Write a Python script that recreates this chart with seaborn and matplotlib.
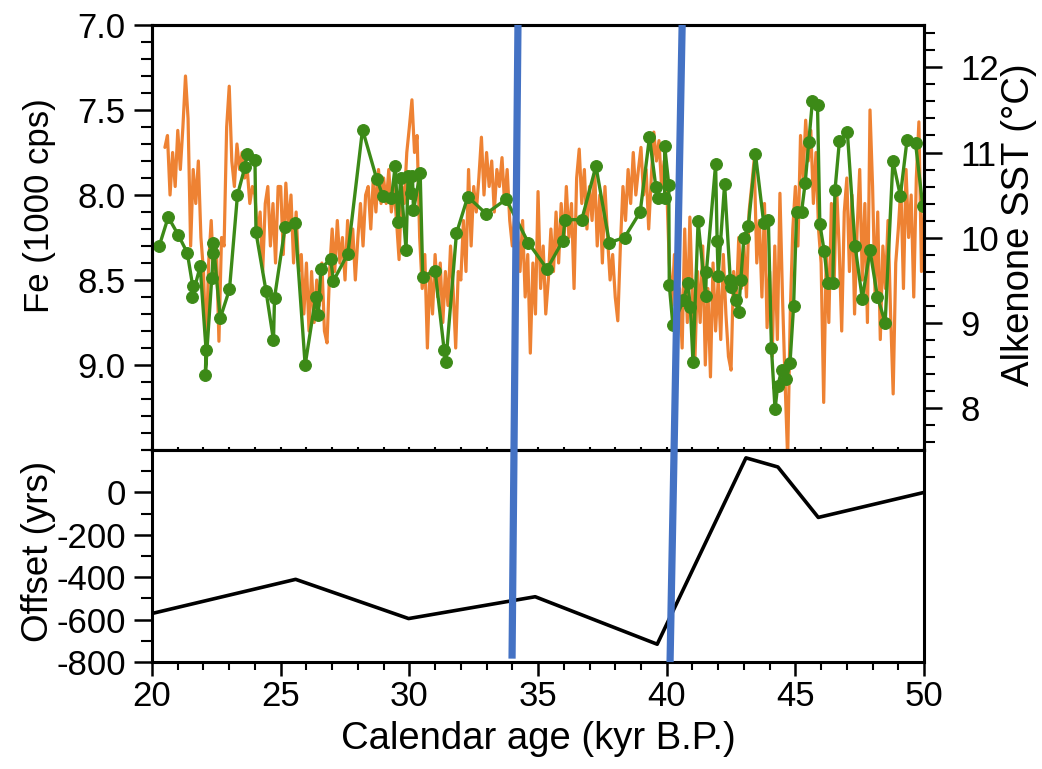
import matplotlib
matplotlib.use("Agg")
import matplotlib.pyplot as plt
import seaborn as sns
from matplotlib.patches import ConnectionPatch
from matplotlib.ticker import FixedLocator, MultipleLocator, FormatStrFormatter

# Fe (XRF core scanning), 1000 cps
fe_age = [
    20.5, 20.6, 20.7, 20.8, 20.9,
    21.0, 21.1, 21.2, 21.3, 21.4, 21.5, 21.6, 21.7, 21.8, 21.9,
    22.0, 22.1, 22.2, 22.3, 22.4, 22.5, 22.6, 22.7, 22.8, 22.9,
    23.0, 23.1, 23.2, 23.3, 23.4, 23.5, 23.6, 23.7, 23.8, 23.9,
    24.0, 24.1, 24.2, 24.3, 24.4, 24.5, 24.6, 24.7, 24.8, 24.9,
    25.0, 25.1, 25.2, 25.3, 25.4, 25.5, 25.6, 25.7, 25.8, 25.9,
    26.0, 26.1, 26.2, 26.3, 26.4, 26.5, 26.6, 26.7, 26.8, 26.9,
    27.0, 27.1, 27.2, 27.3, 27.4, 27.5, 27.6, 27.7, 27.8, 27.9,
    28.0, 28.1, 28.2, 28.3, 28.4, 28.5, 28.6, 28.7, 28.8, 28.9,
    29.0, 29.1, 29.2, 29.3, 29.4, 29.5, 29.6, 29.7, 29.8, 29.9,
    30.0, 30.1, 30.2, 30.3, 30.4, 30.5, 30.6, 30.7, 30.8, 30.9,
    31.0, 31.1, 31.2, 31.3, 31.4, 31.5, 31.6, 31.7, 31.8, 31.9,
    32.0, 32.1, 32.2, 32.3, 32.4, 32.5, 32.6, 32.7, 32.8, 32.9,
    33.0, 33.1, 33.2, 33.3, 33.4, 33.5, 33.6, 33.7, 33.8, 33.9,
    34.0, 34.1, 34.2, 34.3, 34.4, 34.5, 34.6, 34.7, 34.8, 34.9,
    35.0, 35.1, 35.2, 35.3, 35.4, 35.5, 35.6, 35.7, 35.8, 35.9,
    36.0, 36.1, 36.2, 36.3, 36.4, 36.5, 36.6, 36.7, 36.8, 36.9,
    37.0, 37.1, 37.2, 37.3, 37.4, 37.5, 37.6, 37.7, 37.8, 37.9,
    38.0, 38.1, 38.2, 38.3, 38.4, 38.5, 38.6, 38.7, 38.8, 38.9,
    39.0, 39.1, 39.2, 39.3, 39.4, 39.5, 39.6, 39.7, 39.8, 39.9,
    40.0, 40.1, 40.2, 40.3, 40.4, 40.5, 40.6, 40.7, 40.8, 40.9,
    41.0, 41.1, 41.2, 41.3, 41.4, 41.5, 41.6, 41.7, 41.8, 41.9,
    42.0, 42.1, 42.2, 42.3, 42.4, 42.5, 42.6, 42.7, 42.8, 42.9,
    43.0, 43.1, 43.2, 43.3, 43.4, 43.5, 43.6, 43.7, 43.8, 43.9,
    44.0, 44.1, 44.2, 44.3, 44.4, 44.5, 44.6, 44.7, 44.8, 44.9,
    45.0, 45.1, 45.2, 45.3, 45.4, 45.5, 45.6, 45.7, 45.8, 45.9,
    46.0, 46.1, 46.2, 46.3, 46.4, 46.5, 46.6, 46.7, 46.8, 46.9,
    47.0, 47.1, 47.2, 47.3, 47.4, 47.5, 47.6, 47.7, 47.8, 47.9,
    48.0, 48.1, 48.2, 48.3, 48.4, 48.5, 48.6, 48.7, 48.8, 48.9,
    49.0, 49.1, 49.2, 49.3, 49.4, 49.5, 49.6, 49.7, 49.8, 49.9,
    50.0,
]
fe_val = [
    7.72, 7.65, 8.00, 7.75, 7.95,
    7.62, 7.85, 7.60, 7.30, 7.55, 8.30, 7.85, 8.05, 7.80, 8.25,
    8.45, 8.92, 8.40, 8.15, 8.50, 8.30, 8.86, 8.25, 8.30, 7.60,
    7.36, 7.80, 7.95, 7.70, 7.85, 7.75, 7.90, 7.85, 8.05, 7.95,
    8.00, 8.25, 8.10, 8.45, 8.05, 7.95, 8.30, 8.05, 8.40, 7.95,
    7.95, 8.35, 7.93, 8.20, 8.00, 8.40, 8.10, 8.45, 8.35, 8.70,
    8.40, 8.80, 8.45, 8.75, 8.50, 8.65, 8.40, 8.80, 8.87, 8.45,
    8.20, 8.45, 8.15, 8.40, 8.25, 8.50, 8.15, 8.35, 8.20, 8.50,
    8.25, 8.05, 8.30, 8.00, 7.95, 8.20, 7.90, 8.10, 7.85, 8.05,
    7.90, 8.05, 7.85, 8.10, 7.95, 8.15, 8.38, 7.95, 8.05, 7.75,
    7.60, 7.44, 7.75, 7.65, 8.25, 8.55, 8.35, 8.90, 8.45, 8.70,
    8.35, 8.60, 8.40, 8.75, 8.45, 8.65, 8.30, 8.55, 8.90, 8.45,
    8.50, 8.15, 8.45, 7.85, 8.30, 7.95, 8.10, 7.90, 7.66, 8.00,
    7.75, 7.95, 7.80, 8.10, 7.85, 7.95, 7.78, 8.05, 7.85, 8.15,
    8.30, 8.10, 8.20, 8.45, 8.15, 8.60, 8.35, 8.93, 8.40, 8.70,
    7.98, 8.55, 8.30, 8.70, 8.50, 8.20, 8.45, 8.10, 8.40, 8.05,
    8.30, 7.95, 8.25, 8.05, 8.55, 7.90, 7.73, 8.05, 7.85, 8.20,
    7.95, 8.15, 7.85, 8.30, 8.00, 8.40, 7.95, 8.25, 8.50, 8.35,
    8.60, 8.74, 8.30, 7.95, 8.15, 7.85, 8.05, 7.75, 8.00, 7.85,
    7.72, 8.00, 7.85, 8.20, 7.90, 7.63, 7.80, 7.68, 7.95, 7.80,
    7.95, 8.40, 8.65, 8.35, 8.80, 8.55, 8.90, 8.20, 8.75, 8.13,
    8.60, 8.95, 8.45, 8.75, 8.30, 9.00, 8.55, 9.07, 8.40, 8.80,
    8.50, 8.85, 8.35, 8.70, 8.95, 9.03, 8.45, 8.65, 8.25, 8.55,
    8.30, 8.60, 8.10, 7.95, 7.79, 8.40, 8.15, 8.60, 8.05, 8.78,
    8.45, 8.95, 8.30, 8.85, 7.99, 8.60, 9.10, 9.55, 8.70, 8.20,
    7.95, 8.30, 7.65, 7.90, 7.56, 7.80, 7.62, 8.05, 7.75, 8.20,
    8.40, 9.22, 8.35, 8.75, 8.05, 8.55, 7.95, 8.30, 8.80, 8.10,
    7.90, 8.45, 8.00, 8.70, 8.20, 7.85, 8.50, 8.05, 8.75, 7.50,
    7.95, 8.60, 8.10, 8.85, 8.30, 8.55, 8.15, 8.70, 9.17, 8.40,
    8.20, 7.95, 8.55, 7.85, 8.25, 8.00, 8.60, 7.90, 7.57, 8.45,
    8.10,
]

# Alkenone SST (deg C), green markers, in drawing order
sst_age = [
    20.28, 20.63, 21.02, 21.37, 21.58, 21.56, 21.87, 22.10, 22.07, 22.32,
    22.38, 22.38, 22.65, 23.01, 23.32, 23.61, 23.68, 24.00, 24.04, 24.43,
    24.72, 24.76, 25.17, 25.56, 25.95, 26.36, 26.46, 26.56, 26.94, 27.05,
    27.61, 28.18, 28.73, 28.97, 29.30, 29.45, 29.56, 29.66, 29.87, 29.95,
    30.05, 30.12, 30.16, 30.42, 30.52, 31.00, 31.35, 31.42, 31.83, 32.27,
    32.98, 33.76, 34.62, 35.35, 35.96, 36.05, 36.70, 37.25, 37.77, 38.36,
    38.97, 39.33, 39.58, 39.66, 39.92, 39.92, 40.08, 40.10, 40.24, 40.65,
    40.82, 40.92, 41.02, 41.22, 41.51, 41.54, 41.90, 41.96, 42.00, 42.25,
    42.47, 42.51, 42.69, 42.79, 42.88, 43.00, 43.17, 43.45, 43.77, 43.95,
    44.07, 44.21, 44.31, 44.47, 44.65, 44.79, 44.93, 45.05, 45.24, 45.38,
    45.52, 45.66, 45.86, 45.95, 46.12, 46.26, 46.45, 46.54, 46.71, 47.02,
    47.32, 47.60, 47.90, 48.19, 48.49, 48.79, 49.08, 49.34, 49.67, 49.95,
]
sst_val = [
    9.90, 10.24, 10.03, 9.82, 9.43, 9.30, 9.66, 8.68, 8.38, 9.52,
    9.82, 9.94, 9.05, 9.39, 10.50, 10.83, 10.98, 10.91, 10.06, 9.37,
    8.79, 9.29, 10.12, 10.17, 8.50, 9.30, 9.09, 9.63, 9.75, 9.49,
    9.81, 11.27, 10.69, 10.49, 10.46, 10.84, 10.18, 10.70, 9.85, 10.72,
    10.52, 10.72, 10.32, 10.76, 9.54, 9.61, 8.68, 8.54, 10.05, 10.48,
    10.28, 10.45, 9.94, 9.63, 9.96, 10.21, 10.21, 10.84, 9.94, 10.00,
    10.30, 11.18, 10.59, 10.47, 10.46, 11.08, 10.62, 9.44, 8.97, 9.26,
    9.46, 9.18, 8.54, 10.19, 9.31, 9.59, 10.86, 9.96, 9.55, 10.63,
    9.50, 9.42, 9.26, 9.12, 9.50, 10.00, 10.13, 10.98, 10.17, 10.21,
    8.70, 7.98, 8.25, 8.44, 8.33, 8.52, 9.19, 10.30, 10.30, 10.64,
    11.12, 11.60, 11.56, 10.16, 9.84, 9.47, 9.46, 10.56, 11.13, 11.24,
    9.90, 9.28, 9.85, 9.30, 9.00, 10.90, 10.49, 11.15, 11.11, 10.37,
]

# age-model offset (yrs)
off_age = [20.0, 25.58, 29.97, 34.89, 39.63, 43.08, 44.32, 45.89, 50.0]
off_val = [-571, -410, -595, -492, -716, 163, 120, -118, 0]

# the two blue marker lines (top end in the upper panel, bottom end in the lower)
mark_top_age = [34.22, 40.60]
mark_bot_age = [33.99, 40.13]
mark_bot_off = [-784, -800]

orange = "#EE8233"
green = "#3C8A17"
blue = "#4472C4"

sns.set_theme(style="ticks", rc={
    "axes.edgecolor": "black",
    "axes.linewidth": 2.2,
    "xtick.color": "black",
    "ytick.color": "black",
    "text.color": "black",
    "axes.labelcolor": "black",
})
plt.rcParams["font.family"] = ["Liberation Sans", "DejaVu Sans"]
plt.rcParams["axes.unicode_minus"] = False

fig = plt.figure(figsize=(10.42, 7.69), dpi=100)
ax_top = fig.add_axes([0.1459, 0.4148, 0.7409, 0.5527])
ax_bot = fig.add_axes([0.1459, 0.1391, 0.7409, 0.2757])
ax_sst = ax_top.twinx()

sns.lineplot(x=fe_age, y=fe_val, ax=ax_top, color=orange, linewidth=2.3,
             sort=False, estimator=None)
sns.lineplot(x=sst_age, y=sst_val, ax=ax_sst, color=green, linewidth=2.4,
             marker="o", markersize=8.5, markeredgecolor=green,
             sort=False, estimator=None)
sns.lineplot(x=off_age, y=off_val, ax=ax_bot, color="black", linewidth=2.6,
             sort=False, estimator=None)

for ax in (ax_top, ax_bot, ax_sst):
    ax.set_xlim(20, 50)
ax_top.set_ylim(9.5, 7.0)
ax_sst.set_ylim(7.5, 12.5)
ax_bot.set_ylim(-800, 200)

fs = 25
maj = dict(direction="out", length=13, width=1.8, labelsize=fs, color="black")
mnr = dict(direction="out", length=8, width=1.5, color="black")

# upper panel, Fe on the left
ax_top.yaxis.set_major_locator(FixedLocator([7.0, 7.5, 8.0, 8.5, 9.0]))
ax_top.yaxis.set_minor_locator(MultipleLocator(0.1))
ax_top.yaxis.set_major_formatter(FormatStrFormatter("%.1f"))
ax_top.tick_params(axis="y", which="major", pad=6, **maj)
ax_top.tick_params(axis="y", which="minor", **mnr)
ax_top.xaxis.set_major_locator(MultipleLocator(5))
ax_top.xaxis.set_minor_locator(MultipleLocator(1))
ax_top.tick_params(axis="x", which="both", direction="inout", length=5, width=1.5,
                   labelbottom=False)
ax_top.set_xlabel("")
ax_top.set_ylabel("Fe (1000 cps)", fontsize=fs)
ax_top.yaxis.set_label_coords(-0.125, 0.575)

# upper panel, SST on the right
ax_sst.yaxis.set_major_locator(MultipleLocator(1))
ax_sst.yaxis.set_minor_locator(MultipleLocator(0.2))
ax_sst.tick_params(axis="y", which="major", pad=13, **maj)
ax_sst.tick_params(axis="y", which="minor", **mnr)
ax_sst.set_ylabel("Alkenone SST (°C)", fontsize=27.5)
ax_sst.yaxis.set_label_coords(1.1, 0.53)

# lower panel, offset
ax_bot.yaxis.set_major_locator(FixedLocator([-800, -600, -400, -200, 0]))
ax_bot.yaxis.set_minor_locator(MultipleLocator(100))
ax_bot.tick_params(axis="y", which="major", pad=6, **maj)
ax_bot.tick_params(axis="y", which="minor", **mnr)
ax_bot.xaxis.set_major_locator(MultipleLocator(5))
ax_bot.xaxis.set_minor_locator(MultipleLocator(1))
ax_bot.tick_params(axis="x", which="major", direction="out", length=10, width=1.8,
                   labelsize=fs, color="black", pad=3)
ax_bot.tick_params(axis="x", which="minor", direction="out", length=6, width=1.5)
ax_bot.set_ylabel("Offset (yrs)", fontsize=26.5)
ax_bot.yaxis.set_label_coords(-0.125, 0.52)
ax_bot.set_xlabel("Calendar age (kyr B.P.)", fontsize=27.5)
ax_bot.xaxis.set_label_coords(0.5, -0.28)

for ax in (ax_top, ax_bot, ax_sst):
    for sp in ax.spines.values():
        sp.set_linewidth(2.2)
        sp.set_color("black")

# blue marker lines spanning both panels
for a_top, a_bot, o_bot in zip(mark_top_age, mark_bot_age, mark_bot_off):
    con = ConnectionPatch(xyA=(a_top, 7.0), coordsA=ax_top.transData,
                          xyB=(a_bot, o_bot), coordsB=ax_bot.transData,
                          color=blue, linewidth=5.2, capstyle="butt",
                          shrinkA=0, shrinkB=0, zorder=10)
    fig.add_artist(con)

fig.savefig("out.png", dpi=100)
